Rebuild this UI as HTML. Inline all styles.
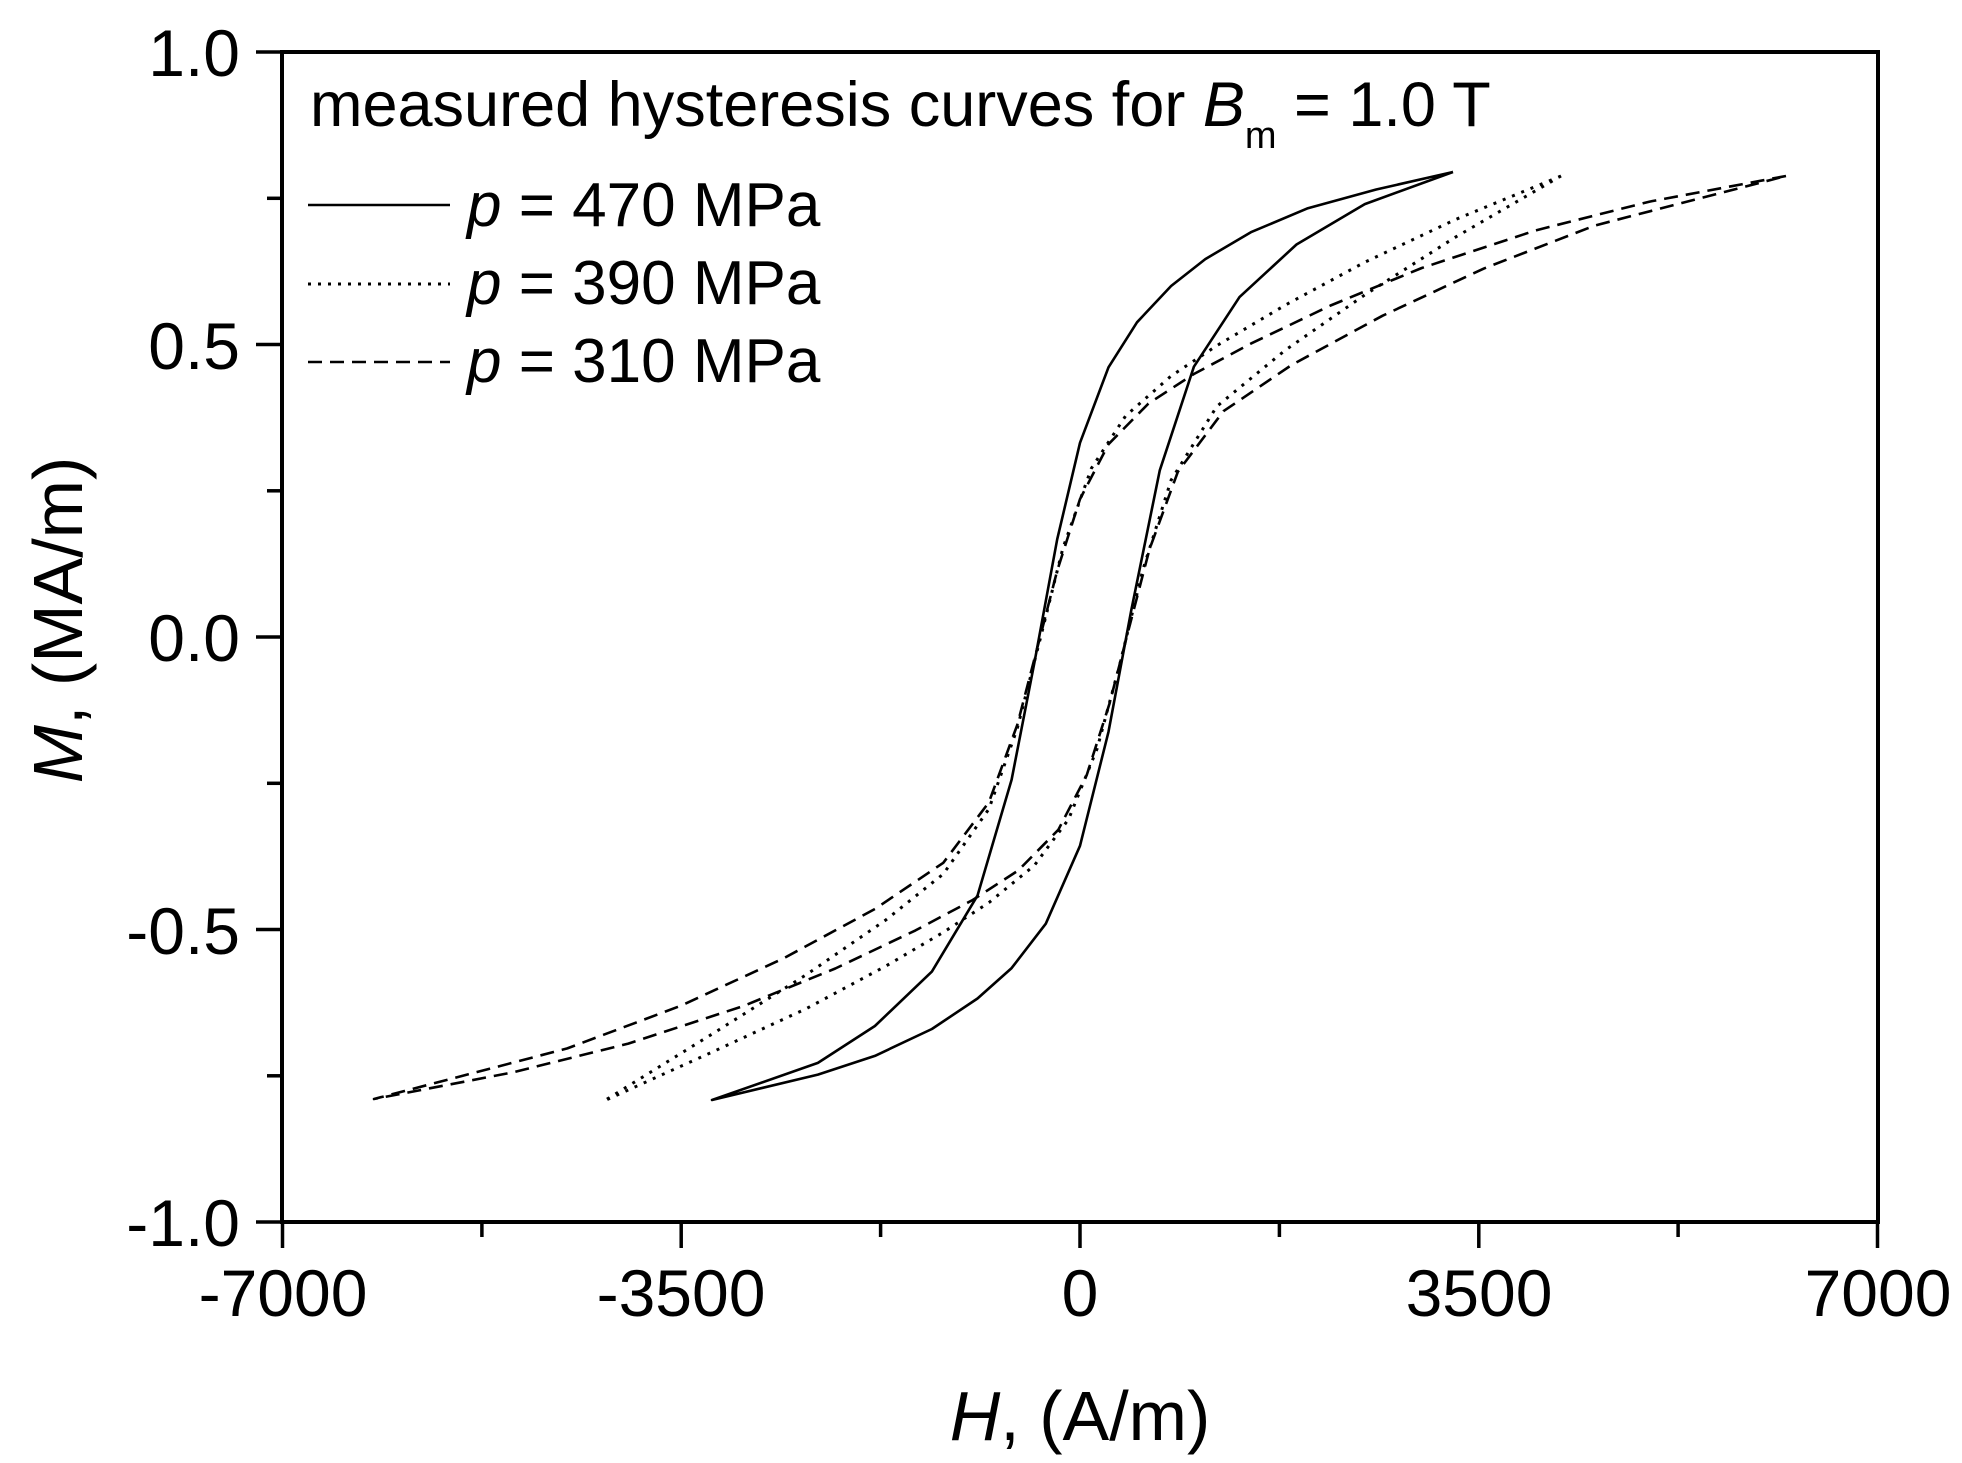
<!DOCTYPE html>
<html><head><meta charset="utf-8"><style>html,body{margin:0;padding:0;background:#fff}svg{display:block}</style></head>
<body>
<svg xmlns="http://www.w3.org/2000/svg" width="1962" height="1463" viewBox="0 0 1962 1463" font-family="Liberation Sans, sans-serif">
<rect width="1962" height="1463" fill="#fff"/>
<g fill="none" stroke="#000" stroke-width="2.6" stroke-linejoin="round">
<path d="M1453,172 L1376.2,189.5 L1307.9,208.2 L1250.9,232.2 L1205.3,259.1 L1171.1,286 L1137,322.3 L1108.5,367.3 L1080,442.8 L1057.2,539.3 L1034.4,662.7 L1011.6,779.7 L977.5,895.6 L931.9,971.6 L874.9,1026 L817.9,1062.9 L712,1100 L817.9,1074.6 L874.9,1055.9 L931.9,1029 L977.5,998.5 L1011.6,968.1 L1045.8,923.7 L1080,845.8 L1108.5,731.8 L1131.3,610.1 L1159.8,470.3 L1193.9,366.7 L1239.5,297.1 L1296.5,244.5 L1364.8,204.1 L1453,172"/>
<path stroke-width="3" stroke-dasharray="3 7" d="M1561,176 L1456,219.3 L1364.8,262.2 L1285.1,305.2 L1216.7,345.7 L1171.1,376 L1125.6,415.9 L1091.4,468.3 L1062.9,548.1 L1040.1,639.3 L1017.3,728.3 L988.9,809 L943.3,874 L886.3,919.6 L806.6,974.5 L715.4,1032 L604,1101 L715.4,1050.6 L806.6,1008.5 L886.3,965.8 L943.3,932.3 L988.9,902.6 L1034.4,865.4 L1068.6,819.2 L1097.1,748.7 L1119.9,663.9 L1142.7,570.3 L1171.1,480.2 L1216.7,406.5 L1285.1,350.3 L1364.8,294.9 L1456,236.8 L1561,176"/>
<path stroke-dasharray="14 8" d="M1786,176 L1649.7,201.6 L1535.7,230.4 L1421.8,268 L1330.6,305.5 L1250.9,343.6 L1193.9,374 L1148.4,403.6 L1108.5,444.2 L1080,499.1 L1057.2,570.7 L1040.1,637 L1017.3,724.8 L988.9,802.3 L943.3,862.8 L874.9,909 L783.8,958.2 L681.2,1005.6 L567.3,1048.4 L374,1099 L512.7,1072.4 L628.3,1043.6 L743.4,1006 L835.3,968.5 L915.5,930.4 L972.7,900 L1018.3,870.4 L1058.3,829.8 L1086.8,774.9 L1109.6,703.3 L1126.7,637 L1149.5,549.2 L1177.9,471.7 L1223.4,411.2 L1291.6,365 L1382.4,315.8 L1484.1,268.4 L1594.6,225.6 L1786,176"/>
</g>
<rect x="282" y="52" width="1596" height="1170" fill="none" stroke="#000" stroke-width="4"/>
<g stroke="#000" stroke-width="3.5">
<line x1="282.5" y1="1222" x2="282.5" y2="1248"/>
<line x1="481.9" y1="1222" x2="481.9" y2="1237"/>
<line x1="681.2" y1="1222" x2="681.2" y2="1248"/>
<line x1="880.6" y1="1222" x2="880.6" y2="1237"/>
<line x1="1080" y1="1222" x2="1080" y2="1248"/>
<line x1="1279.4" y1="1222" x2="1279.4" y2="1237"/>
<line x1="1478.8" y1="1222" x2="1478.8" y2="1248"/>
<line x1="1678.1" y1="1222" x2="1678.1" y2="1237"/>
<line x1="1877.5" y1="1222" x2="1877.5" y2="1248"/>
<line x1="282" y1="52" x2="256" y2="52"/>
<line x1="282" y1="198.3" x2="267" y2="198.3"/>
<line x1="282" y1="344.5" x2="256" y2="344.5"/>
<line x1="282" y1="490.8" x2="267" y2="490.8"/>
<line x1="282" y1="637" x2="256" y2="637"/>
<line x1="282" y1="783.3" x2="267" y2="783.3"/>
<line x1="282" y1="929.5" x2="256" y2="929.5"/>
<line x1="282" y1="1075.8" x2="267" y2="1075.8"/>
<line x1="282" y1="1222" x2="256" y2="1222"/>
</g>
<g font-size="66" fill="#000" text-anchor="end">
<text x="240" y="76">1.0</text>
<text x="240" y="369">0.5</text>
<text x="240" y="661">0.0</text>
<text x="240" y="954">-0.5</text>
<text x="240" y="1246">-1.0</text>
</g>
<g font-size="66" fill="#000" text-anchor="middle">
<text x="283" y="1316">-7000</text>
<text x="681" y="1316">-3500</text>
<text x="1080" y="1316">0</text>
<text x="1479" y="1316">3500</text>
<text x="1878" y="1316">7000</text>
</g>
<text x="1080" y="1440" font-size="70" text-anchor="middle"><tspan font-style="italic">H</tspan>, (A/m)</text>
<text transform="translate(82,620) rotate(-90)" font-size="70" text-anchor="middle"><tspan font-style="italic">M</tspan>, (MA/m)</text>
<text x="310" y="126" font-size="63">measured hysteresis curves for <tspan font-style="italic">B</tspan><tspan font-size="38" dy="22">m</tspan><tspan dy="-22"> = 1.0 T</tspan></text>
<g font-size="62">
<text x="467" y="226"><tspan font-style="italic">p</tspan> = 470 MPa</text>
<text x="467" y="304"><tspan font-style="italic">p</tspan> = 390 MPa</text>
<text x="467" y="382"><tspan font-style="italic">p</tspan> = 310 MPa</text>
</g>
<g stroke="#000" stroke-width="2.6">
<line x1="308" y1="205" x2="450" y2="205"/>
<line x1="308" y1="284" x2="450" y2="284" stroke-width="3" stroke-dasharray="3 7"/>
<line x1="308" y1="362" x2="450" y2="362" stroke-dasharray="14 8"/>
</g>
</svg>
</body></html>
